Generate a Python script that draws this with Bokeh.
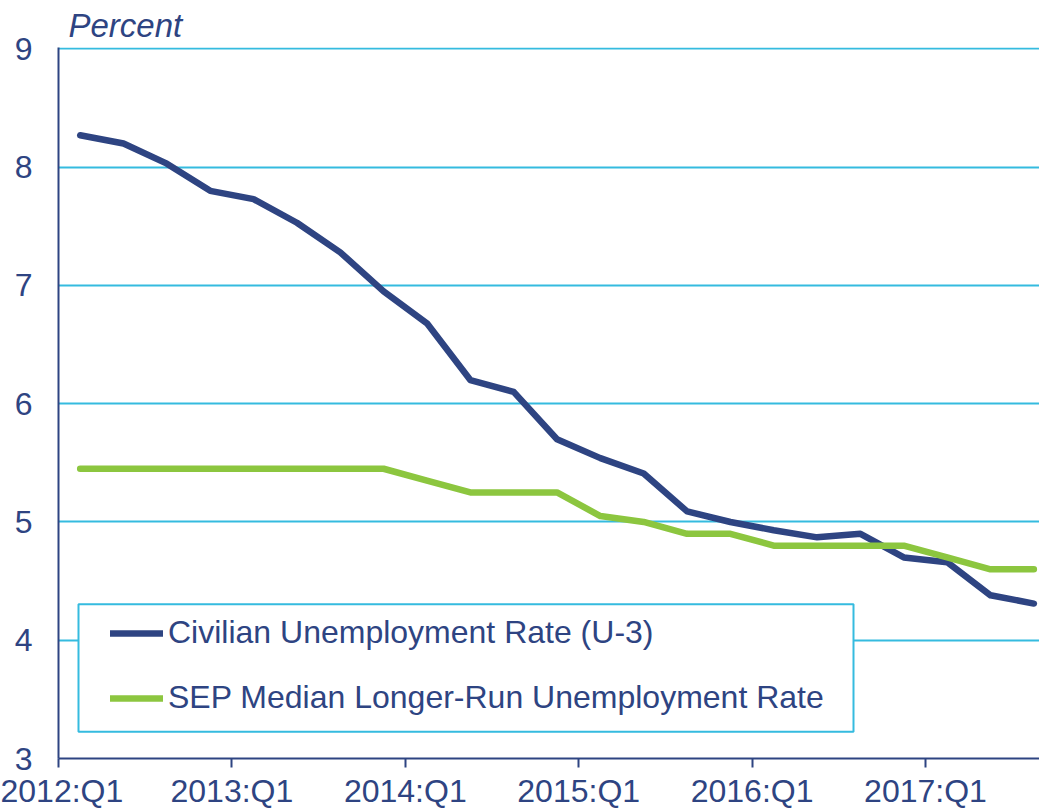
from bokeh.plotting import figure
from bokeh.models import Range1d, FixedTicker, Legend, LegendItem, BoxAnnotation, Title
from bokeh.embed import file_html
from bokeh.resources import INLINE

quarters = ["2012:Q1", "2012:Q2", "2012:Q3", "2012:Q4",
            "2013:Q1", "2013:Q2", "2013:Q3", "2013:Q4",
            "2014:Q1", "2014:Q2", "2014:Q3", "2014:Q4",
            "2015:Q1", "2015:Q2", "2015:Q3", "2015:Q4",
            "2016:Q1", "2016:Q2", "2016:Q3", "2016:Q4",
            "2017:Q1", "2017:Q2", "2017:Q3"]
unemployment = [8.27, 8.20, 8.03, 7.80, 7.73, 7.53, 7.28, 6.95,
                6.68, 6.20, 6.10, 5.70, 5.54, 5.41, 5.09, 5.00,
                4.93, 4.87, 4.90, 4.70, 4.66, 4.38, 4.31]
sep_longrun = [5.45, 5.45, 5.45, 5.45, 5.45, 5.45, 5.45, 5.45,
               5.35, 5.25, 5.25, 5.25, 5.05, 5.00, 4.90, 4.90,
               4.80, 4.80, 4.80, 4.80, 4.70, 4.60, 4.60]
tick_labels = ["2012:Q1", "2013:Q1", "2014:Q1", "2015:Q1", "2016:Q1", "2017:Q1"]
y_ticks = [3, 4, 5, 6, 7, 8, 9]
series_names = ["Civilian Unemployment Rate (U-3)",
                "SEP Median Longer-Run Unemployment Rate"]

NAVY = "#2E4482"
GREEN = "#8CC63F"
CYAN = "#35BBDF"
FONT = "Liberation Sans"

# positions: each quarter plotted at its middle
xpos = [i + 0.5 for i in range(len(quarters))]
tick_pos = [quarters.index(t) for t in tick_labels]

W, H = 1039, 811
BL, BT = 58, 47
X_END = 22.63
Y_TOP = 9.012

p = figure(width=W, height=H, output_backend="svg", toolbar_location=None,
           x_range=Range1d(0, X_END), y_range=Range1d(3, Y_TOP),
           min_border_left=BL, min_border_right=0, min_border_top=BT,
           min_border_bottom=51)
p.outline_line_color = None
p.background_fill_color = "white"
p.border_fill_color = "white"

p.title = Title(text="Percent", text_font=FONT, text_font_size="33px",
                text_font_style="italic", text_color=NAVY, align="left",
                offset=10, standoff=8)

# axes
p.xaxis.ticker = FixedTicker(ticks=tick_pos)
p.xaxis.major_label_overrides = {t: l for t, l in zip(tick_pos, tick_labels)}
p.xaxis.minor_tick_line_color = None
p.xaxis.major_tick_out = 9
p.xaxis.major_tick_in = 0
p.xaxis.major_tick_line_color = NAVY
p.xaxis.major_tick_line_width = 2
p.xaxis.axis_line_color = NAVY
p.xaxis.axis_line_width = 2
p.xaxis.major_label_text_font = FONT
p.xaxis.major_label_text_font_size = "32px"
p.xaxis.major_label_text_color = NAVY
p.xaxis.major_label_standoff = 5

p.yaxis.ticker = FixedTicker(ticks=y_ticks)
p.yaxis.minor_tick_line_color = None
p.yaxis.major_tick_out = 0
p.yaxis.major_tick_in = 0
p.yaxis.axis_line_color = NAVY
p.yaxis.axis_line_width = 2
p.yaxis.major_label_text_font = FONT
p.yaxis.major_label_text_font_size = "32px"
p.yaxis.major_label_text_color = NAVY
p.yaxis.major_label_standoff = 26

p.xgrid.grid_line_color = None
p.ygrid.grid_line_color = CYAN
p.ygrid.grid_line_width = 2

r1 = p.line(xpos, unemployment, line_color=NAVY, line_width=6.5,
            line_join="round", line_cap="round")
r2 = p.line(xpos, sep_longrun, line_color=GREEN, line_width=6.5,
            line_join="round", line_cap="round")

# legend frame (layout, in pixels converted to data space)
frame_w = W - BL
frame_h = 713
px_x = X_END / frame_w
px_y = 6 / frame_h
box = BoxAnnotation(left=20 * px_x, right=795 * px_x,
                    top=9 - 558 * px_y, bottom=9 - 686 * px_y,
                    fill_color="white", fill_alpha=1.0,
                    line_color=CYAN, line_alpha=1.0, line_width=2)
p.add_layout(box)

legend = Legend(items=[LegendItem(label=series_names[0], renderers=[r1]),
                       LegendItem(label=series_names[1], renderers=[r2])],
                location=(52, 42), orientation="vertical",
                padding=0, margin=0, spacing=28,
                glyph_width=53, glyph_height=36, label_height=36,
                label_standoff=5,
                label_text_font=FONT, label_text_font_size="32px",
                label_text_color=NAVY,
                border_line_alpha=0, background_fill_alpha=0)
p.add_layout(legend)

open("out.html", "w").write(file_html(p, INLINE))
